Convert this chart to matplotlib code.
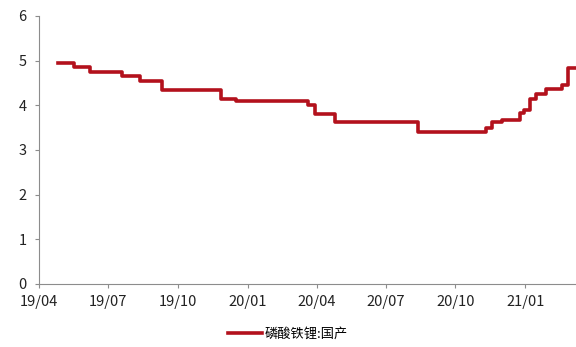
import pandas as pd
import matplotlib
matplotlib.use("Agg")
import matplotlib.pyplot as plt
import matplotlib.dates as mdates

plt.rcParams['font.family'] = ['Noto Sans CJK SC', 'DejaVu Sans']

# step change dates and price levels
step_dates = [
    "2019-04-26", "2019-05-17", "2019-06-07", "2019-07-19", "2019-08-12",
    "2019-09-10", "2019-11-27", "2019-12-17", "2020-03-20", "2020-03-30",
    "2020-04-25", "2020-08-12", "2020-11-10", "2020-11-18", "2020-12-02",
    "2020-12-25", "2020-12-31", "2021-01-07", "2021-01-15", "2021-01-29",
    "2021-02-19", "2021-02-27", "2021-03-08",
]
step_values = [
    4.95, 4.85, 4.75, 4.65, 4.55,
    4.35, 4.15, 4.10, 4.00, 3.80,
    3.62, 3.40, 3.50, 3.62, 3.67,
    3.82, 3.90, 4.14, 4.25, 4.36,
    4.45, 4.83, 4.83,
]
tick_dates = ["2019-04-01", "2019-07-01", "2019-10-01", "2020-01-01",
              "2020-04-01", "2020-07-01", "2020-10-01", "2021-01-01"]
series_name = "磷酸铁锂:国产"

dates = pd.to_datetime(step_dates)

fig = plt.figure(figsize=(5.76, 3.47), dpi=100)
ax = fig.add_axes([0.068, 0.182, 0.932, 0.772])

ax.plot(dates, step_values, drawstyle="steps-post", color="#B3111C",
        linewidth=2.6, label=series_name)

ax.set_ylim(0, 6)
ax.set_yticks(range(0, 7))
ax.set_xlim(pd.Timestamp("2019-04-01"), pd.Timestamp("2021-03-09"))
ax.set_xticks(pd.to_datetime(tick_dates))
ax.xaxis.set_major_formatter(mdates.DateFormatter("%y/%m"))

for side in ["top", "right"]:
    ax.spines[side].set_visible(False)
for side in ["left", "bottom"]:
    ax.spines[side].set_color("#8c8c8c")
    ax.spines[side].set_linewidth(0.8)
ax.tick_params(axis="both", colors="#8c8c8c", length=3, width=0.8,
               labelcolor="#222222", labelsize=10.5)
ax.tick_params(axis="x", pad=5)
ax.tick_params(axis="y", pad=6)

fig.legend(loc="lower center", bbox_to_anchor=(0.5, -0.015), frameon=False,
           fontsize=9.5, handlelength=2.6, handletextpad=0.2)

fig.savefig("out.png", dpi=100)
